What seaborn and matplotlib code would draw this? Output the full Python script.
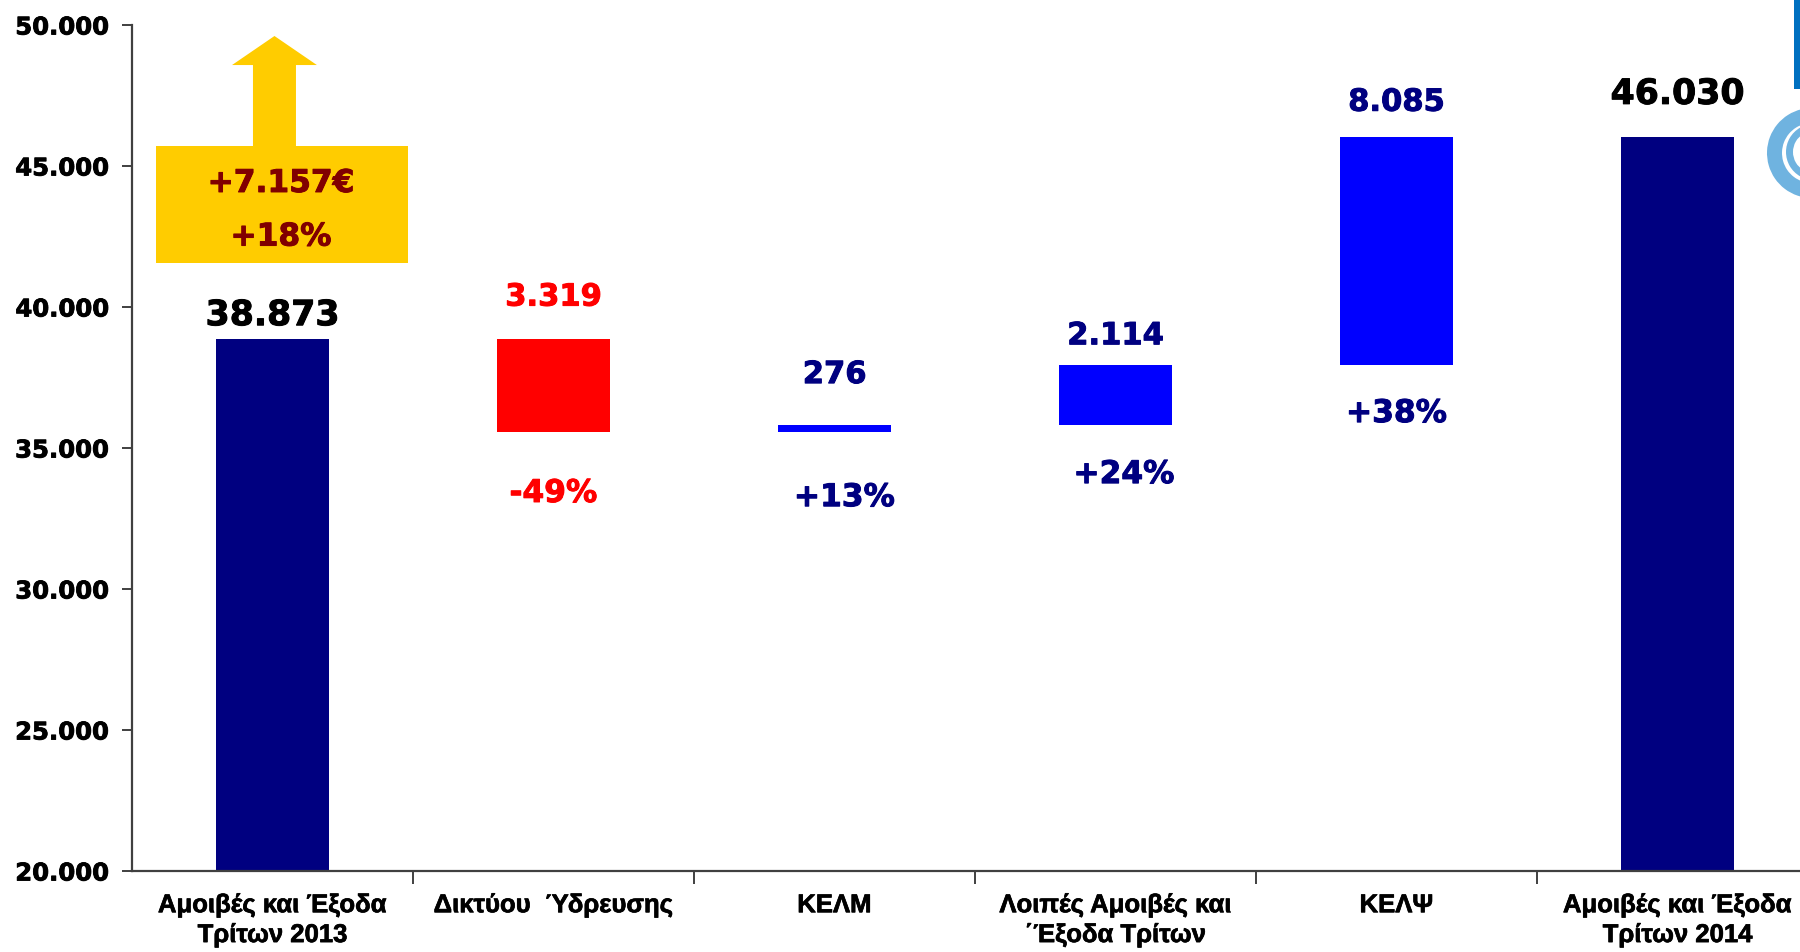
import numpy as np
import pandas as pd
import matplotlib
matplotlib.use('Agg')
from matplotlib import pyplot as plt
from matplotlib import font_manager
from matplotlib import patheffects
from matplotlib.patches import Rectangle, FancyArrow, Wedge
from matplotlib.ticker import FuncFormatter, FixedLocator
import seaborn as sns

# Dados do gráfico (valores em €)
categorias = ['Αμοιβές και Έξοδα\nΤρίτων 2013',
              'Δικτύου  Ύδρευσης',
              'ΚΕΛΜ',
              'Λοιπές Αμοιβές και\n΄Έξοδα Τρίτων',
              'ΚΕΛΨ',
              'Αμοιβές και Έξοδα\nΤρίτων 2014']
inicio = 38873
variacoes = [-3319, 276, 2114, 8085]
final = 46030
rotulos = ['38.873', '3.319', '276', '2.114', '8.085', '46.030']
percentuais = ['-49%', '+13%', '+24%', '+38%']
aumento_valor = '+7.157€'
aumento_pct = '+18%'

# Calcula base e altura de cada barra (cascata)
acumulado = np.cumsum([inicio] + variacoes)
bases = [0]
alturas = [inicio]
for anterior, atual in zip(acumulado[:-1], acumulado[1:]):
    bases.append(min(anterior, atual))
    alturas.append(abs(atual - anterior))
bases.append(0)
alturas.append(final)

df = pd.DataFrame({'categoria': categorias, 'altura': alturas, 'base': bases})

# Cores
navy = '#000080'
vermelho = '#FF0000'
azul = '#0000FF'
cores_barras = [navy, vermelho, azul, azul, azul, navy]
cores_rotulos = ['black', vermelho, navy, navy, navy, 'black']
tam_rotulos = [25, 22, 22, 22, 22, 25]
desloc_rotulos = [17, 30, 36, 21, 25, 31]
cores_pct = [vermelho, navy, navy, navy]
desloc_pct = [-44, -47, -36, -35]
dx_pct = [0, 0.035, 0.03, 0]

sns.set_style('ticks')
plt.rcParams['font.family'] = ['DejaVu Sans']

# Fonte estreita para os rótulos do eixo x, se existir
fontes = {f.name for f in font_manager.fontManager.ttflist}
if 'Liberation Sans Narrow' in fontes:
    fonte_x, tam_x = 'Liberation Sans Narrow', 20
else:
    fonte_x, tam_x = 'Liberation Sans', 18.5

def negrito(cor, lw=0.7):
    return [patheffects.withStroke(linewidth=lw, foreground=cor)]

fig = plt.figure(figsize=(18, 9.52), dpi=100)
ax = fig.add_axes([132 / 1800, 81 / 952, 1686 / 1800, 846 / 952])

sns.barplot(data=df, x='categoria', y='altura', bottom=df['base'].values,
            width=0.405, color=navy, saturation=1, ax=ax)
for barra, cor in zip(ax.patches, cores_barras):
    barra.set_facecolor(cor)
    barra.set_edgecolor('none')

ax.set_xlim(-0.5, 5.5)
ax.set_ylim(20000, 50000)
ax.set_xlabel('')
ax.set_ylabel('')

# Eixos
sns.despine(ax=ax)
for lado in ['left', 'bottom']:
    ax.spines[lado].set_color('#404040')
    ax.spines[lado].set_linewidth(1.6)

ax.yaxis.set_major_locator(FixedLocator(np.arange(20000, 50001, 5000)))
ax.yaxis.set_major_formatter(FuncFormatter(lambda v, p: f'{v:,.0f}'.replace(',', '.')))
ax.tick_params(axis='y', length=7, width=1.4, color='#404040', pad=10,
               labelsize=17.5, labelcolor='black')
for t in ax.get_yticklabels():
    t.set_fontweight('bold')
    t.set_path_effects(negrito('black', 0.6))

ax.xaxis.set_minor_locator(FixedLocator(np.arange(0.5, 5.6, 1)))
ax.tick_params(axis='x', which='major', length=0, pad=16, labelsize=tam_x,
               labelcolor='black', labelfontfamily=fonte_x)
ax.tick_params(axis='x', which='minor', length=9, width=1.4, color='#404040')
for t in ax.get_xticklabels():
    t.set_fontweight('bold')
    t.set_linespacing(1.3)
    t.set_path_effects(negrito('black', 0.5))

# Rótulos de valor
topos = np.array(bases) + np.array(alturas)
for i, (rot, topo) in enumerate(zip(rotulos, topos)):
    ax.annotate(rot, xy=(i, topo), xytext=(0, desloc_rotulos[i]),
                textcoords='offset points', ha='center', va='center',
                fontsize=tam_rotulos[i], fontweight='bold', color=cores_rotulos[i],
                path_effects=negrito(cores_rotulos[i]))

# Rótulos de percentual
for j, pct in enumerate(percentuais):
    i = j + 1
    ax.annotate(pct, xy=(i + dx_pct[j], bases[i]), xytext=(0, desloc_pct[j]),
                textcoords='offset points', ha='center', va='center',
                fontsize=22.5, fontweight='bold', color=cores_pct[j],
                path_effects=negrito(cores_pct[j]))

# Seta amarela com o aumento total
amarelo = '#FFCC00'
ax.add_patch(FancyArrow(0.007, 44000, 0, 49610 - 44000, width=0.153,
                        head_width=0.302, head_length=1030,
                        length_includes_head=True, color=amarelo, lw=0, zorder=3))
ax.add_patch(Rectangle((-0.415, 41560), 0.897, 4150, color=amarelo, lw=0, zorder=3))
ax.text(0.03, 44380, aumento_valor, ha='center', va='center', fontsize=22.5,
        fontweight='bold', color='#800000', zorder=4, path_effects=negrito('#800000'))
ax.text(0.03, 42480, aumento_pct, ha='center', va='center', fontsize=22.5,
        fontweight='bold', color='#800000', zorder=4, path_effects=negrito('#800000'))

# Logo cortado no canto direito (coordenadas em pixels)
ax_logo = fig.add_axes([1740 / 1800, 1 - 210 / 952, 60 / 1800, 210 / 952])
ax_logo.set_xlim(1740, 1800)
ax_logo.set_ylim(210, 0)
ax_logo.axis('off')
ax_logo.add_patch(Rectangle((1794, 0), 6, 89, color='#0070C0', lw=0))
azul_claro = '#6FB3E0'
ax_logo.add_patch(Wedge((1812, 153), 45, 35, 330, width=15, color=azul_claro, lw=0))
ax_logo.add_patch(Wedge((1814, 152), 28, 60, 300, width=7, color=azul_claro, lw=0))
ax_logo.add_patch(Wedge((1815, 150), 15, 90, 270, width=6, color=azul_claro, lw=0))

plt.savefig('out.png', dpi=100)
plt.close()
